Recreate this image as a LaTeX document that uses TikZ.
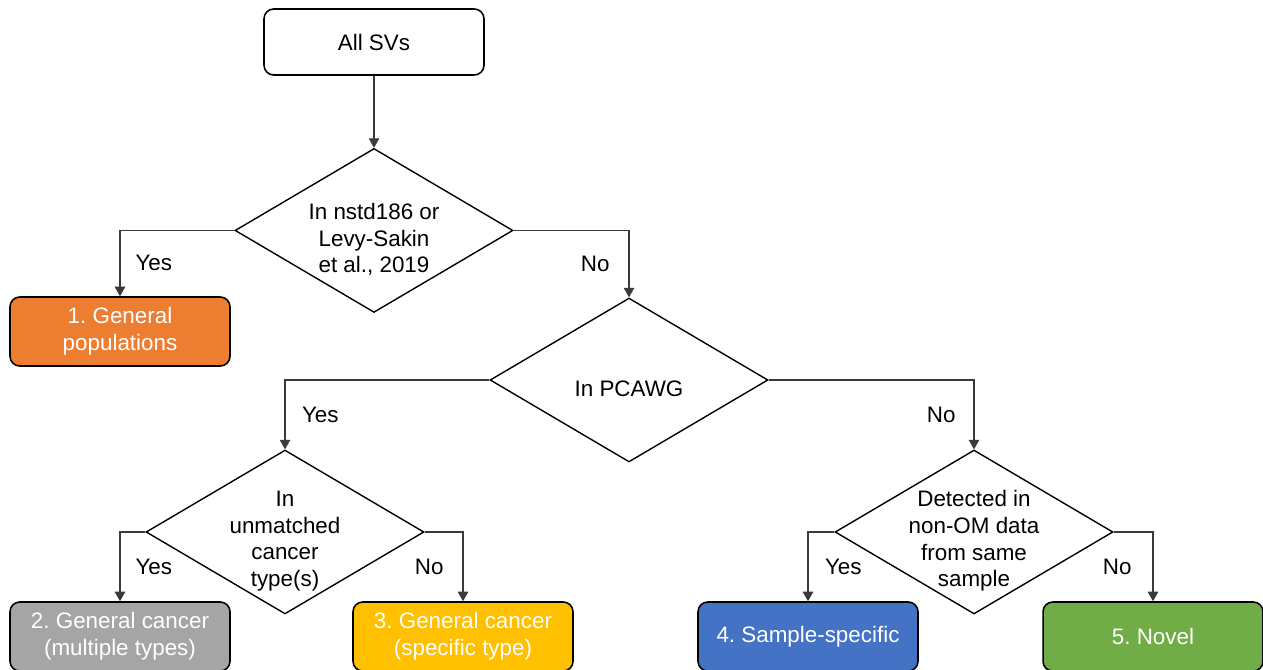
\documentclass[tikz,border=0pt]{standalone}
\usepackage{fontspec}
\setmainfont{Liberation Sans}
\setsansfont{Liberation Sans}
\usetikzlibrary{arrows.meta,positioning,shapes.geometric}
\frenchspacing
\definecolor{ink}{HTML}{000000}
\definecolor{wire}{HTML}{3A3A3A}
\definecolor{orange}{HTML}{ED7D31}
\definecolor{gray}{HTML}{A5A5A5}
\definecolor{gold}{HTML}{FFC000}
\definecolor{blue}{HTML}{4472C4}
\definecolor{green}{HTML}{70AD47}
\tikzset{
  every node/.style={font=\sffamily\fontsize{12.75}{15.2}\selectfont},
  box/.style={draw=ink, rounded corners=5.5pt, line width=0.9pt, fill=white, align=center, minimum width=4.4cm, minimum height=1.38cm, inner sep=0pt},
  orangebox/.style={box, fill=orange, text=white},
  graybox/.style={box, fill=gray, text=white},
  goldbox/.style={box, fill=gold, text=white},
  bluebox/.style={box, fill=blue, text=white},
  greenbox/.style={box, fill=green, text=white},
  decision/.style={diamond, draw=ink, line width=0.8pt, fill=white, minimum width=5.56cm, minimum height=3.28cm, inner sep=0pt},
  qtext/.style={align=center, yshift=-0.18cm},
  arrow/.style={-{Triangle[length=1.9mm,width=2.1mm]}, line width=0.6pt, draw=wire},
  answer/.style={inner sep=0pt},
}
\begin{document}
\begin{tikzpicture}[x=0.02cm, y=-0.02cm]
\useasboundingbox (0,0) rectangle (1263,669);
\node[box, minimum height=1.32cm] (start) at (374,42) {All SVs};
\node[decision, below=1.44cm of start] (q1) {};
\node[qtext] (q1t) at (q1) {In nstd186 or\\Levy-Sakin\\et al., 2019};
\node[orangebox] (b1) at (120,331.5) {1. General\\populations};
\node[decision] (q2) at (629,380) {};
\node[qtext] (q2t) at (q2) {In PCAWG};
\node[decision] (q3) at (285,532) {};
\node[qtext] (q3t) at (q3) {In\\unmatched\\cancer\\type(s)};
\node[decision] (q4) at (974,532) {};
\node[qtext] (q4t) at (q4) {Detected in\\non-OM data\\from same\\sample};
\node[graybox] (b2) at (120,636.5) {2. General cancer\\(multiple types)};
\node[goldbox] (b3) at (463,636.5) {3. General cancer\\(specific type)};
\node[bluebox] (b4) at (808,636.5) {4. Sample-specific};
\node[greenbox] (b5) at (1153,636.5) {5. Novel};
\draw[arrow] (start) -- (q1);
\draw[arrow] (q1.west) -| node[answer, pos=0.75, right=0.3cm] (y1) {Yes} (b1.north);
\draw[arrow] (q1.east) -| node[answer, pos=0.75, left=0.38cm] (n1) {No} (q2.north);
\draw[arrow] (q2.west) -| node[answer, pos=0.75, right=0.33cm] (y2) {Yes} (q3.north);
\draw[arrow] (q2.east) -| node[answer, pos=0.75, left=0.36cm] (n2) {No} (q4.north);
\draw[arrow] (q3.west) -| node[answer, pos=0.75, right=0.3cm] (y3) {Yes} (b2.north);
\draw[arrow] (q3.east) -| node[answer, pos=0.75, left=0.38cm] (n3) {No} (b3.north);
\draw[arrow] (q4.west) -| node[answer, pos=0.75, right=0.33cm] (y4) {Yes} (b4.north);
\draw[arrow] (q4.east) -| node[answer, pos=0.75, left=0.42cm] (n4) {No} (b5.north);
\end{tikzpicture}
\end{document}
